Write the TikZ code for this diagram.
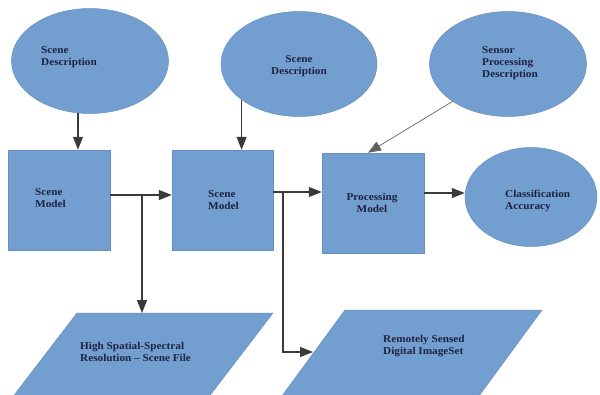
\documentclass[tikz,border=0pt]{standalone}
\usepackage{fontspec}
\setmainfont[FakeStretch=1.07]{Liberation Serif}
\usetikzlibrary{shapes.geometric,arrows.meta}
\definecolor{fillblue}{HTML}{729FCF}
\definecolor{edgeblue}{HTML}{678FC0}
\definecolor{txt}{HTML}{1F2140}
\definecolor{linegray}{HTML}{3A3A3A}
\begin{document}
\begin{tikzpicture}[x=1pt,y=-1pt,
  oval/.style={ellipse, fill=fillblue, draw=edgeblue, line width=0.5pt, inner sep=0pt},
  blk/.style={rectangle, fill=fillblue, draw=edgeblue, line width=0.5pt, inner sep=0pt},
  lbl/.style={font=\bfseries\fontsize{10.5}{12}\selectfont, text=txt, align=left, anchor=base west, inner sep=0pt},
  lblc/.style={lbl, align=center, anchor=base},
  conn/.style={draw=linegray, line width=1.1pt, -{Triangle[length=13pt,width=10pt]}},
  thinconn/.style={draw=linegray!80, line width=0.7pt, -{Triangle[length=13pt,width=10pt]}},
  para/.style={fill=fillblue, draw=edgeblue, line width=0.5pt}]
\useasboundingbox (0,0) rectangle (600,394);
\clip (0,0) rectangle (600,394);

% ellipses
\node[oval, minimum width=157pt, minimum height=105pt] (e1) at (90,61) {};
\node[oval, minimum width=156pt, minimum height=105pt] (e2) at (299,64) {};
\node[oval, minimum width=157pt, minimum height=105pt] (e3) at (508,64) {};
\node[oval, minimum width=132pt, minimum height=99pt] (e4) at (531,197) {};

% boxes
\node[blk, minimum width=102pt, minimum height=100pt] (b1) at (59,200) {};
\node[blk, minimum width=101pt, minimum height=100pt] (b2) at (222.5,200) {};
\node[blk, minimum width=102pt, minimum height=100pt] (b3) at (373,203) {};

% parallelograms
\draw[para] (77,313) -- (273,313) -- (206.4,400) -- (10.4,400) -- cycle;
\draw[para] (345,310) -- (542,310) -- (476,400) -- (279,400) -- cycle;
\coordinate (p1top) at (142,313);
\coordinate (p2left) at (313,352);

% labels (anchor = baseline of the last line)
\node[lbl] (t1) at (41,65) {Scene\\Description};
\node[lblc] (t2) at (299,74) {Scene\\Description};
\node[lbl] (t3) at (482,77) {Sensor\\Processing\\Description};
\node[lbl] (t4) at (505,209) {Classification\\Accuracy};
\node[lbl] (t5) at (35,207) {Scene\\Model};
\node[lbl] (t6) at (208,209) {Scene\\Model};
\node[lblc] (t7) at (372,212) {Processing\\Model};
\node[lbl] (t8) at (80,361) {High Spatial-Spectral\\Resolution -- Scene File};
\node[lbl] (t9) at (383,354) {Remotely Sensed\\Digital ImageSet};

% connectors
\draw[conn] (e1.257) -- (e1.257 |- b1.north);
\draw[conn] (e2.212) -- (e2.212 |- b2.north);
\draw[thinconn] (e3.214) -- ([xshift=-5pt]b3.north);
\draw[conn] ([yshift=5pt]b1.east) -- ([yshift=5pt]b1.east -| b2.west);
\coordinate (j1) at (142,195);
\draw[conn] (j1) -- (p1top);
\draw[conn] ([yshift=8pt]b2.east) -- ([yshift=8pt]b2.east -| b3.west);
\coordinate (j2) at (283,192);
\draw[conn] (j2) |- (p2left);
\draw[conn] ([yshift=10pt]b3.east) -- ([yshift=10pt]b3.east -| e4.west);
\end{tikzpicture}
\end{document}
